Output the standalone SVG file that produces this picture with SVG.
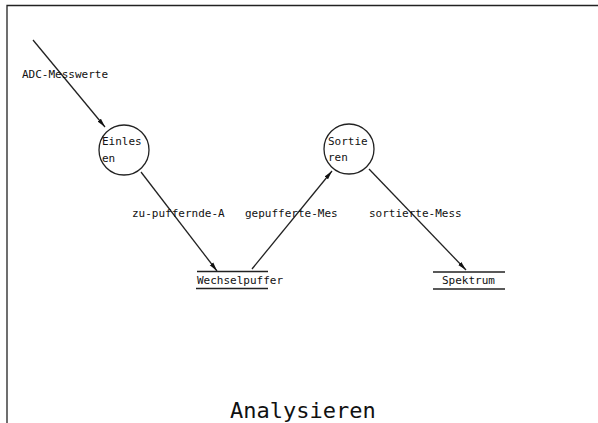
<svg xmlns="http://www.w3.org/2000/svg" width="598" height="423" viewBox="0 0 598 423">
<style>
text{font-family:"DejaVu Sans Mono","Liberation Mono",monospace;fill:#111}
.s{font-size:11px}
.t{font-size:22px}
.c{fill:none;stroke:#222;stroke-width:1.3}
.l{stroke:#222;stroke-width:1.3;fill:none}
</style>
<defs>
<marker id="a" markerWidth="10" markerHeight="6" refX="9" refY="3" orient="auto" markerUnits="userSpaceOnUse">
<path d="M0,0.8 L9,3 L0,5.2 Z" fill="#111"/>
</marker>
</defs>
<rect width="598" height="423" fill="#fff"/>
<g id="frame">
<path class="l" d="M7,423 V5.5 H598" stroke="#444"/>
</g>
<g id="connectors">
<line class="l" x1="33" y1="40" x2="105" y2="127" marker-end="url(#a)"/>
<line class="l" x1="141" y1="172" x2="217" y2="271" marker-end="url(#a)"/>
<line class="l" x1="252" y1="269" x2="332" y2="171" marker-end="url(#a)"/>
<line class="l" x1="369" y1="169" x2="466" y2="270" marker-end="url(#a)"/>
<text class="s" x="22" y="78">ADC-Messwerte</text>
<text class="s" x="132" y="217">zu-puffernde-A</text>
<text class="s" x="245" y="217">gepufferte-Mes</text>
<text class="s" x="369" y="217">sortierte-Mess</text>
</g>
<g id="einlesen">
<circle class="c" cx="124" cy="150" r="25"/>
<text class="s" x="102" y="145">Einles</text>
<text class="s" x="102" y="162">en</text>
</g>
<g id="sortieren">
<circle class="c" cx="349" cy="149" r="25"/>
<text class="s" x="328" y="145">Sortie</text>
<text class="s" x="328" y="161">ren</text>
</g>
<g id="wechselpuffer">
<line class="l" x1="197" y1="271.5" x2="268" y2="271.5"/>
<line class="l" x1="196" y1="288.5" x2="268" y2="288.5"/>
<text class="s" x="197" y="284">Wechselpuffer</text>
</g>
<g id="spektrum">
<line class="l" x1="433" y1="272" x2="505" y2="272"/>
<line class="l" x1="433" y1="289" x2="505" y2="289"/>
<text class="s" x="442" y="284">Spektrum</text>
</g>
<g id="title">
<text class="t" x="230" y="418">Analysieren</text>
</g>
</svg>
